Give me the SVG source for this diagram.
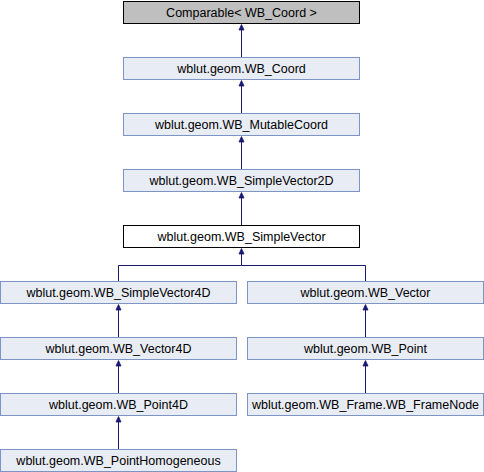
<svg xmlns="http://www.w3.org/2000/svg" width="484" height="472" viewBox="0 0 484 472">
<style>
rect.n{fill:#e8ecf5;stroke:#7d95c4;stroke-width:1}
rect.g{fill:#bfbfbf;stroke:#000;stroke-width:1}
rect.w{fill:#fff;stroke:#000;stroke-width:1}
text{font-family:"Liberation Sans",Arial,sans-serif;font-size:12.5px;fill:#000;text-anchor:middle}
.e path{fill:none;stroke:#191970;stroke-width:1}
.e polygon{fill:#191970;stroke:#191970;stroke-width:0.8}
</style>
<rect width="484" height="472" fill="#fff"/>
<g class="e" id="connectors">
<path d="M241.5,29V57"/><polygon points="241.5,24.5 239,30 244,30"/>
<path d="M241.5,85V113"/><polygon points="241.5,80.5 239,86 244,86"/>
<path d="M241.5,141V169"/><polygon points="241.5,136.5 239,142 244,142"/>
<path d="M241.5,197V225"/><polygon points="241.5,192.5 239,198 244,198"/>
<path d="M241.5,253V265.5H118.5V281M241.5,265.5H365.5V281"/><polygon points="241.5,248.5 239,254 244,254"/>
<path d="M118.5,309V337"/><polygon points="118.5,304.5 116,310 121,310"/>
<path d="M365.5,309V337"/><polygon points="365.5,304.5 363,310 368,310"/>
<path d="M118.5,365V393"/><polygon points="118.5,360.5 116,366 121,366"/>
<path d="M365.5,365V393"/><polygon points="365.5,360.5 363,366 368,366"/>
<path d="M118.5,421V449"/><polygon points="118.5,416.5 116,422 121,422"/>
</g>
<g id="comparable"><rect class="g" x="123.5" y="1.5" width="236" height="22"/><text x="241.5" y="16.5">Comparable&lt; WB_Coord &gt;</text></g>
<g id="coord"><rect class="n" x="123.5" y="57.5" width="236" height="22"/><text x="241.5" y="72.5">wblut.geom.WB_Coord</text></g>
<g id="mutablecoord"><rect class="n" x="123.5" y="113.5" width="236" height="22"/><text x="241.5" y="128.5">wblut.geom.WB_MutableCoord</text></g>
<g id="simplevector2d"><rect class="n" x="123.5" y="169.5" width="236" height="22"/><text x="241.5" y="184.5">wblut.geom.WB_SimpleVector2D</text></g>
<g id="simplevector"><rect class="w" x="123.5" y="225.5" width="236" height="22"/><text x="241.5" y="240.5">wblut.geom.WB_SimpleVector</text></g>
<g id="simplevector4d"><rect class="n" x="0.5" y="281.5" width="236" height="22"/><text x="118.5" y="296.5">wblut.geom.WB_SimpleVector4D</text></g>
<g id="vector"><rect class="n" x="247.5" y="281.5" width="236" height="22"/><text x="365.5" y="296.5">wblut.geom.WB_Vector</text></g>
<g id="vector4d"><rect class="n" x="0.5" y="337.5" width="236" height="22"/><text x="118.5" y="352.5">wblut.geom.WB_Vector4D</text></g>
<g id="point"><rect class="n" x="247.5" y="337.5" width="236" height="22"/><text x="365.5" y="352.5">wblut.geom.WB_Point</text></g>
<g id="point4d"><rect class="n" x="0.5" y="393.5" width="236" height="22"/><text x="118.5" y="408.5">wblut.geom.WB_Point4D</text></g>
<g id="framenode"><rect class="n" x="247.5" y="393.5" width="236" height="22"/><text x="365.5" y="408.5">wblut.geom.WB_Frame.WB_FrameNode</text></g>
<g id="pointhomogeneous"><rect class="n" x="0.5" y="449.5" width="236" height="22"/><text x="118.5" y="464.5">wblut.geom.WB_PointHomogeneous</text></g>
</svg>
